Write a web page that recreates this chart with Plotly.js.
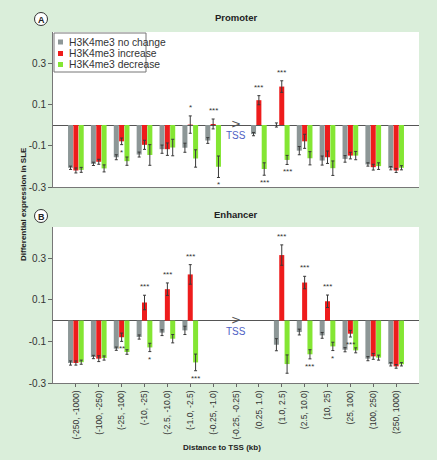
<!DOCTYPE html>
<html><head><meta charset="utf-8">
<script src="https://cdn.plot.ly/plotly-3.0.1.min.js"></script>
<style>html,body{margin:0;padding:0;background:#daeeda;}#chart{width:437px;height:460px;}</style>
</head><body><div id="chart"></div>
<script>
// ---------------- DATA ----------------
const categories = ['(-250, -1000)','(-100, -250)','(-25, -100)','(-10, -25)','(-2.5, -10.0)','(-1.0, -2.5)','(-0.25, -1.0)','(-0.25, -0.25)','(0.25, 1.0)','(1.0, 2.5)','(2.5, 10.0)','(10, 25)','(25, 100)','(100, 250)','(250, 1000)'];
const seriesNames = ['H3K4me3 no change','H3K4me3 increase','H3K4me3 decrease'];

// Panel A: Promoter
const promNoChange    = [-0.207,-0.188,-0.156,-0.143,-0.117,-0.110,-0.075,null,-0.044,0.000,-0.124,-0.172,-0.164,-0.191,-0.209];
const promNoChangeErr = [0.008,0.008,0.012,0.012,0.020,0.022,0.014,null,0.008,0.010,0.020,0.022,0.016,0.008,0.008];
const promIncrease    = [-0.220,-0.178,-0.079,-0.096,-0.117,0.002,0.005,null,0.120,0.186,-0.079,-0.156,-0.148,-0.204,-0.220];
const promIncreaseErr = [0.012,0.012,0.016,0.022,0.030,0.042,0.024,null,0.022,0.028,0.034,0.030,0.016,0.014,0.010];
const promDecrease    = [-0.217,-0.210,-0.175,-0.145,-0.109,-0.162,-0.202,null,-0.213,-0.169,-0.161,-0.209,-0.148,-0.199,-0.207];
const promDecreaseErr = [0.012,0.017,0.020,0.050,0.040,0.042,0.052,null,0.030,0.022,0.032,0.035,0.020,0.016,0.010];
const promNoChangeSig = ['','','','','','','','','','','','','','',''];
const promIncreaseSig = ['','','*','','','*','***','','***','***','','','','',''];
const promDecreaseSig = ['','','','','','','*','','***','***','','','','',''];

// Panel B: Enhancer
const enhNoChange    = [-0.204,-0.175,-0.135,-0.079,-0.058,-0.047,null,null,null,-0.116,-0.055,-0.071,-0.140,-0.183,-0.210];
const enhNoChangeErr = [0.010,0.008,0.008,0.010,0.014,0.020,null,null,null,0.029,0.014,0.014,0.010,0.010,0.008];
const enhIncrease    = [-0.204,-0.183,-0.080,0.087,0.151,0.222,null,null,null,0.315,0.183,0.093,-0.063,-0.172,-0.220];
const enhIncreaseErr = [0.010,0.014,0.020,0.035,0.030,0.047,null,null,null,0.049,0.030,0.030,0.016,0.014,0.009];
const enhDecrease    = [-0.200,-0.180,-0.151,-0.129,-0.087,-0.201,null,null,null,-0.209,-0.162,-0.124,-0.143,-0.178,-0.210];
const enhDecreaseErr = [0.010,0.010,0.011,0.020,0.020,0.040,null,null,null,0.044,0.022,0.020,0.012,0.012,0.008];
const enhNoChangeSig = ['','','','','','','','','','','','','','',''];
const enhIncreaseSig = ['','','**','***','***','***','','','','***','***','***','***','',''];
const enhDecreaseSig = ['','','','*','','***','','','','','***','*','','',''];

const tickVals = [-0.3,-0.1,0.1,0.3];
const tickText = ['-0.3','-0.1','0.1','0.3'];
const tssCategory = '(-0.25, -0.25)';

// ---------------- STYLE ----------------
const colors = ['#8d9797','#ee1c1c','#84e633'];
const W = 437, H = 460;
const FONT = '"Liberation Sans", Arial, sans-serif';
const px = x => x / W;
const py = y => 1 - y / H;

const panels = [
  {xa:'x2', ya:'y2', vals:[promNoChange,promIncrease,promDecrease], errs:[promNoChangeErr,promIncreaseErr,promDecreaseErr], sigs:[promNoChangeSig,promIncreaseSig,promDecreaseSig]},
  {xa:'x',  ya:'y',  vals:[enhNoChange,enhIncrease,enhDecrease], errs:[enhNoChangeErr,enhIncreaseErr,enhDecreaseErr], sigs:[enhNoChangeSig,enhIncreaseSig,enhDecreaseSig]}
];

const traces = [];
const annotations = [];
const offsets = [-1, 0, 1];
panels.forEach(p => {
  for (let s = 0; s < 3; s++) {
    traces.push({
      type:'bar', x:categories, y:p.vals[s], name:seriesNames[s], xaxis:p.xa, yaxis:p.ya,
      marker:{color:colors[s], line:{width:0}}, showlegend:false, hoverinfo:'skip',
      error_y:{type:'data', array:p.errs[s], visible:true, color:'#3a3a3a', thickness:1, width:1.5}
    });
    p.sigs[s].forEach((sg, i) => {
      if (!sg) return;
      const v = p.vals[s][i], e = p.errs[s][i];
      const up = v >= 0;
      annotations.push({
        xref:p.xa, yref:p.ya, x:categories[i], y: up ? v + e : v - e,
        text:sg, showarrow:false, xanchor:'center', yanchor: up ? 'bottom' : 'top',
        xshift: offsets[s] * 5.3, yshift: up ? 2 : -1,
        font:{family:FONT, size:8, color:'#333'}
      });
    });
  }
  // TSS marker
  annotations.push({xref:p.xa, yref:p.ya, x:tssCategory, y:0, text:'>', showarrow:false,
    xanchor:'center', yanchor:'middle', yshift:1, font:{family:'DejaVu Sans', size:12, color:'#555'}});
  annotations.push({xref:p.xa, yref:p.ya, x:tssCategory, y:0, text:'TSS', showarrow:false,
    xanchor:'center', yanchor:'top', yshift:-3, font:{family:FONT, size:10, color:'#4f5fc4'}});
});

function paperText(x, y, text, size, extra) {
  annotations.push(Object.assign({xref:'paper', yref:'paper', x:px(x), y:py(y), text:text, showarrow:false,
    xanchor:'center', yanchor:'middle', font:{family:FONT, size:size, color:'#222'}}, extra || {}));
}
// titles
paperText(236, 17, '<b>Promoter</b>', 9.5);
paperText(236, 214, '<b>Enhancer</b>', 9.5);
paperText(23, 204, '<b>Differential expression in SLE</b>', 8, {textangle:-90});
paperText(222, 447, '<b>Distance to TSS (kb)</b>', 8);
paperText(41, 19.5, '<b>A</b>', 9);
paperText(41, 216.5, '<b>B</b>', 9);

const shapes = [];
[[41,19],[41,216]].forEach(([cx,cy]) => {
  shapes.push({type:'circle', xref:'paper', yref:'paper', x0:px(cx-6.5), x1:px(cx+6.5), y0:py(cy+6.5), y1:py(cy-6.5), line:{color:'#333', width:1}, fillcolor:'#ffffff', layer:'below'});
});
// manual legend
shapes.push({type:'rect', xref:'paper', yref:'paper', x0:px(54), x1:px(146), y0:py(72), y1:py(33), line:{color:'#777', width:1}, fillcolor:'#ffffff'});
const rowY = [42, 53.5, 64.5];
seriesNames.forEach((n, s) => {
  shapes.push({type:'rect', xref:'paper', yref:'paper', x0:px(58), x1:px(63), y0:py(rowY[s]+2.5), y1:py(rowY[s]-2.5), line:{width:0}, fillcolor:colors[s]});
  annotations.push({xref:'paper', yref:'paper', x:px(67), y:py(rowY[s]), text:n, showarrow:false, xanchor:'left', yanchor:'middle', font:{family:FONT, size:10.3, color:'#333'}});
});

const xd = [px(53), px(419)];
const yAxisCommon = {range:[-0.3,0.45], tickvals:tickVals, ticktext:tickText, ticks:'outside', ticklen:4, tickcolor:'#666',
  showline:true, linecolor:'#777', linewidth:1, showgrid:false, zeroline:true, zerolinecolor:'#555', zerolinewidth:1,
  tickfont:{family:FONT, size:10, color:'#333'}, fixedrange:true};
const xAxisCommon = {type:'category', range:[-1,15], domain:xd, showline:true, linecolor:'#777', linewidth:1, showgrid:false, zeroline:false, fixedrange:true};

const layout = {
  width:W, height:H, margin:{l:0,r:0,t:0,b:0},
  paper_bgcolor:'#daeeda', plot_bgcolor:'#ffffff',
  barmode:'group', bargap:0.3, bargroupgap:0.06,
  showlegend:false,
  xaxis: Object.assign({}, xAxisCommon, {anchor:'y', ticks:'outside', ticklen:3, tickcolor:'#666', tickangle:-90,
    tickfont:{family:FONT, size:8.5, color:'#333'}}),
  yaxis: Object.assign({}, yAxisCommon, {domain:[py(383), py(227)], anchor:'x'}),
  xaxis2: Object.assign({}, xAxisCommon, {anchor:'y2', showticklabels:false, ticks:''}),
  yaxis2: Object.assign({}, yAxisCommon, {domain:[py(187), py(32)], anchor:'x2'}),
  annotations: annotations, shapes: shapes,
  font:{family:FONT}
};

Plotly.newPlot('chart', traces, layout, {displayModeBar:false, staticPlot:true});
</script></body></html>
